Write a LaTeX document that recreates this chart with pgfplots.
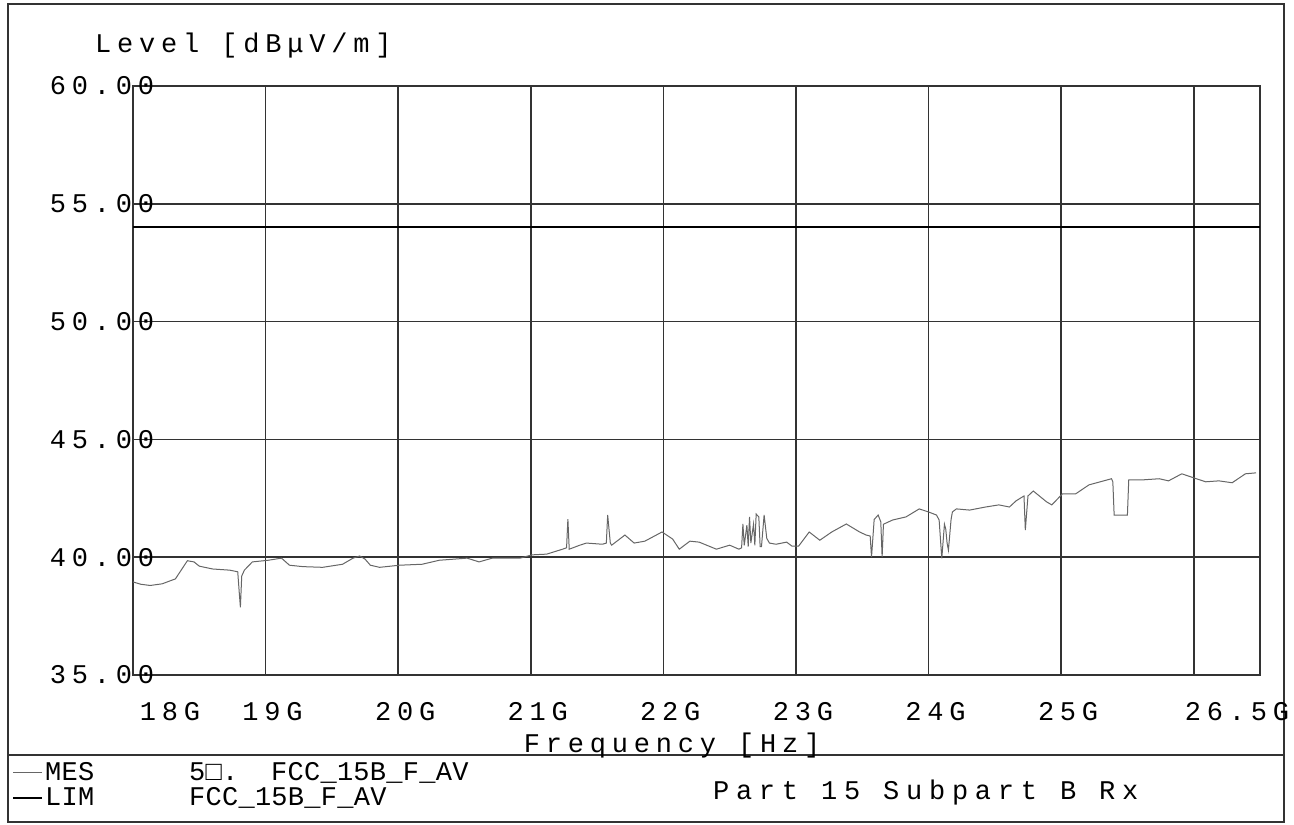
\documentclass[border=0pt]{standalone}
\usepackage{fontspec}
\usepackage{pgfplots}
\pgfplotsset{compat=1.18}
\usepackage{pgfplotstable}
\newfontfamily\mono[LetterSpace=21.5]{Liberation Mono}
\newfontfamily\wmono[LetterSpace=25]{Liberation Mono}
\newfontfamily\legmono[LetterSpace=1]{Liberation Mono}
\setmainfont{Liberation Mono}
\newcommand\fs{\fontsize{13.5}{15}\selectfont}

\pgfplotstableread{
f v
18.00 38.95
18.06 38.85
18.13 38.80
18.22 38.87
18.32 39.08
18.41 39.85
18.46 39.80
18.50 39.62
18.60 39.50
18.73 39.45
18.79 39.38
18.80 38.60
18.81 37.87
18.82 39.20
18.84 39.45
18.90 39.80
19.02 39.87
19.12 39.96
19.18 39.66
19.28 39.60
19.43 39.57
19.58 39.70
19.66 39.96
19.71 40.05
19.75 39.92
19.79 39.66
19.86 39.57
20.01 39.66
20.18 39.70
20.31 39.87
20.52 39.96
20.61 39.80
20.71 39.96
20.92 39.96
21.01 40.10
21.12 40.13
21.24 40.34
21.27 40.40
21.28 41.62
21.29 40.34
21.37 40.51
21.42 40.60
21.54 40.55
21.57 40.60
21.58 41.79
21.60 40.60
21.61 40.51
21.71 40.94
21.78 40.60
21.86 40.68
21.99 41.07
22.07 40.77
22.12 40.34
22.20 40.68
22.27 40.64
22.40 40.34
22.50 40.51
22.57 40.34
22.59 40.40
22.60 41.41
22.61 40.50
22.63 41.36
22.64 40.45
22.65 41.71
22.66 40.60
22.68 41.40
22.69 40.50
22.70 41.83
22.72 41.71
22.73 40.45
22.74 40.45
22.76 41.79
22.78 40.80
22.80 40.60
22.85 40.55
22.93 40.64
22.97 40.47
23.02 40.47
23.10 41.07
23.18 40.72
23.27 41.07
23.38 41.41
23.48 41.07
23.53 40.94
23.56 40.90
23.57 40.00
23.59 41.60
23.62 41.79
23.64 41.50
23.65 40.00
23.66 41.40
23.73 41.58
23.83 41.71
23.93 42.05
24.00 41.92
24.06 41.79
24.08 41.58
24.10 39.95
24.12 41.40
24.13 41.19
24.14 40.60
24.15 40.30
24.17 41.60
24.18 41.92
24.21 42.05
24.31 42.00
24.43 42.13
24.53 42.22
24.61 42.13
24.66 42.39
24.72 42.60
24.73 41.15
24.75 42.60
24.79 42.81
24.89 42.35
24.93 42.22
25.01 42.69
25.11 42.69
25.21 43.07
25.38 43.33
25.39 43.20
25.40 41.79
25.50 41.79
25.51 43.28
25.61 43.28
25.74 43.33
25.81 43.24
25.91 43.54
26.02 43.33
26.09 43.20
26.19 43.24
26.29 43.16
26.39 43.54
26.47 43.58
}\mes

\pgfplotstableread{
f v
18.0 54.0
26.5 54.0
}\lim

\begin{document}
\begin{tikzpicture}
\path[use as bounding box] (0pt,0pt) rectangle (647pt,412pt);
\draw[line width=0.8pt, black!80] (4pt,1pt) rectangle (642pt,410pt);
\draw[line width=0.9pt, black!80] (4pt,34.5pt) -- (642pt,34.5pt);
\begin{axis}[
  name=ax,
  at={(66.5pt,74.5pt)}, anchor=south west,
  scale only axis, width=563.5pt, height=294.5pt,
  xmin=18, xmax=26.5, ymin=35, ymax=60,
  xtick={18,19,20,21,22,23,24,25,26,26.5},
  xticklabels={\hspace*{30pt}18G,19G,20G,21G,22G,23G,24G,25G,,26.5G\hspace*{30pt}},
  ytick={35,40,45,50,55,60},
  yticklabels={35.00,40.00,45.00,50.00,55.00,60.00},
  major tick length=0pt,
  grid=major,
  major grid style={line width=0.8pt, black!80},
  axis line style={line width=0.8pt, black!80},
  xticklabel style={font=\mono\fs, anchor=center, yshift=-18.5pt, xshift=3.5pt},
  yticklabel style={font=\mono\fs, anchor=center, xshift=-15.5pt},
  xlabel={Frequency [Hz]},
  xlabel style={font=\mono\fs, at={(axis description cs:0.4783,-0.1205)}, anchor=center},
  ylabel={Level [dBμV/m]},
  ylabel style={font=\mono\fs, rotate=-90, at={(axis description cs:-0.0399,1.0679)}, anchor=west},
  legend style={at={(axis description cs:-0.1074,-0.1440)}, anchor=north west, draw=none, fill=none,
    font=\legmono\fs, inner sep=0pt, row sep=0pt, column sep=0pt, nodes={inner sep=1pt}},
  legend cell align=left,
  legend image code/.code={\draw[#1] (0pt,0pt) -- (14.5pt,0pt);},
]
\addplot[black!60, line width=0.5pt] table[x=f, y=v] {\mes};
\addlegendentry{\makebox[72pt][l]{MES}\makebox[41pt][l]{5□.}FCC\_15B\_F\_AV}
\addplot[black, line width=0.9pt] table[x=f, y=v] {\lim};
\addlegendentry{\makebox[72pt][l]{LIM}FCC\_15B\_F\_AV}
\end{axis}
\path (ax.south west) ++(286.5pt,-59pt) node[anchor=west, font=\wmono\fs] {Part 15 Subpart B Rx};
\end{tikzpicture}
\end{document}
